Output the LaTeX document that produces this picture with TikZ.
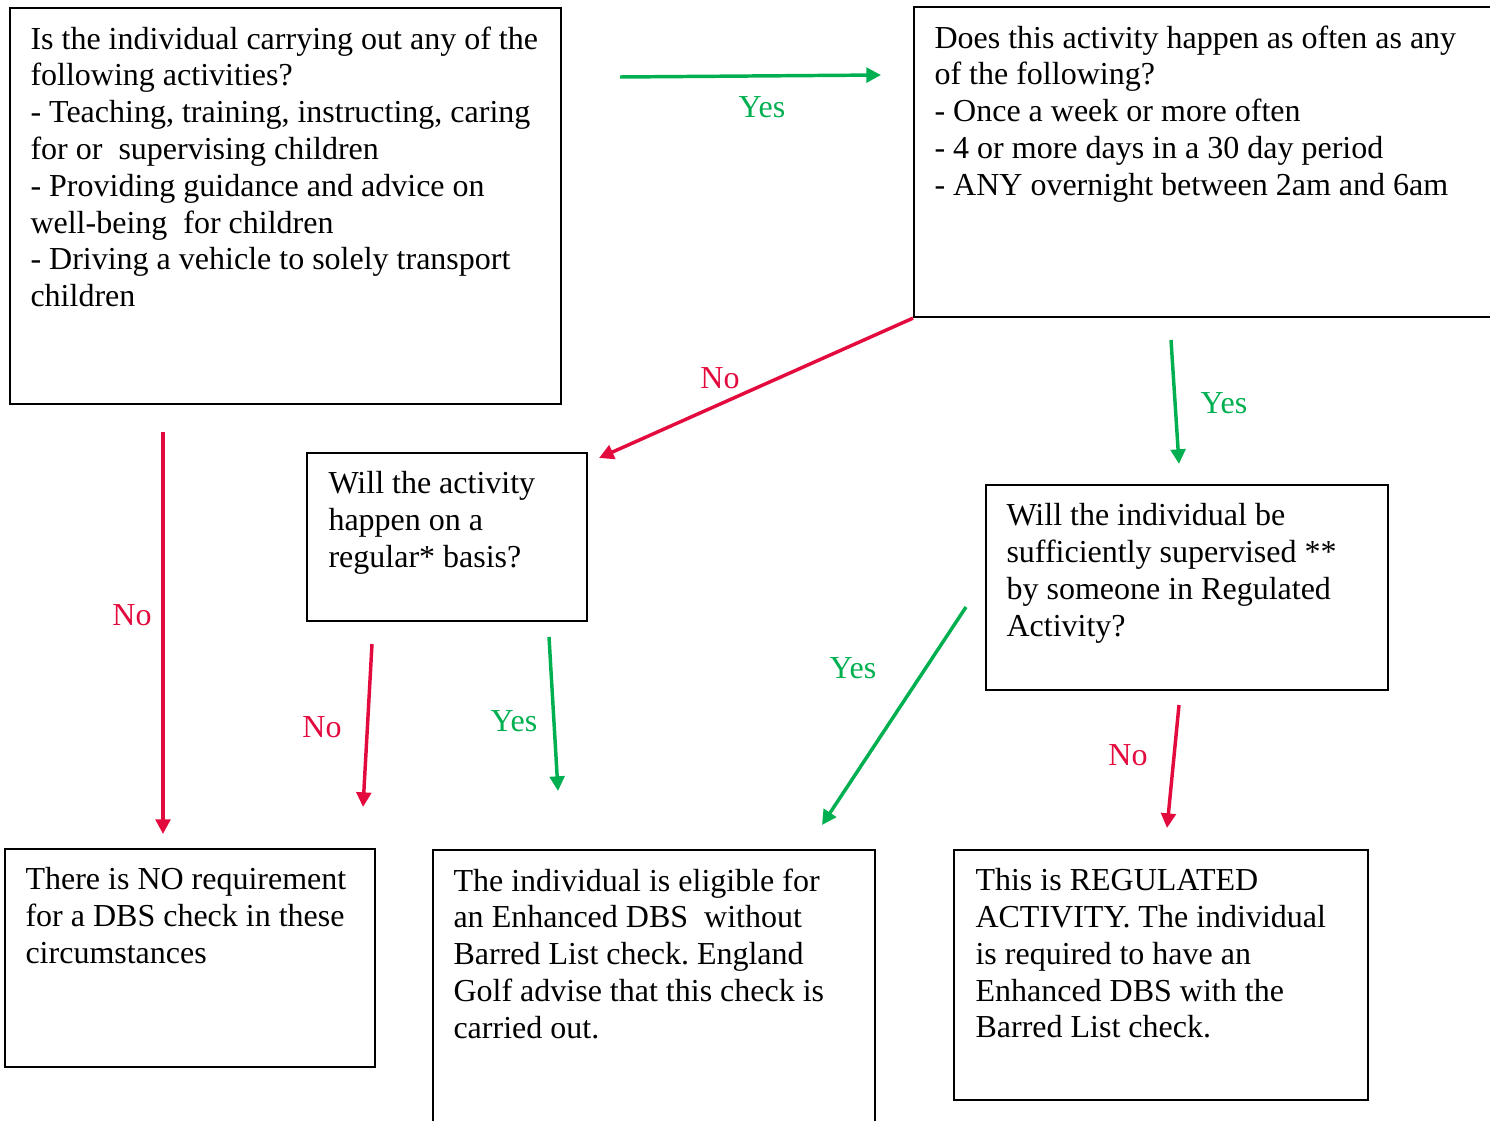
\documentclass[tikz,border=0pt]{standalone}
\usepackage{fontspec}
\setmainfont{Liberation Serif}
\usepackage{xcolor}
\usetikzlibrary{arrows.meta, positioning, calc}
\definecolor{yesgreen}{HTML}{00B050}
\definecolor{nored}{HTML}{E30B3E}
\frenchspacing

\begin{document}
\begin{tikzpicture}[
    x=0.375pt, y=-0.375pt,
    box/.style={rectangle, draw=black, line width=0.8pt, anchor=north west, inner sep=0pt},
    boxtext/.style={anchor=north west, inner sep=0pt, text width=#1, align=flush left, font=\fontsize{12}{13.8}\selectfont},
    yesarrow/.style={-{Triangle[length=5.5pt, width=5.5pt]}, line width=1.3pt, yesgreen},
    noarrow/.style={-{Triangle[length=5.5pt, width=5.5pt]}, line width=1.3pt, nored},
    yeslabel/.style={text=yesgreen, inner sep=0pt, font=\fontsize{12}{13.8}\selectfont},
    nolabel/.style={text=nored, inner sep=0pt, font=\fontsize{12}{13.8}\selectfont}
]
\useasboundingbox (0,0) rectangle (1490,1120);
\clip (0,0) rectangle (1490,1120);

% Boxes
\node[box, minimum width=206.6pt, minimum height=148.5pt] (act) at (9,7) {};
\node[box, minimum width=223.9pt, minimum height=116.25pt] (freq) at (913,6) {};
\node[box, minimum width=105pt, minimum height=63pt] (regular) at (306,452) {};
\node[box, minimum width=150.75pt, minimum height=76.9pt] (superv) at (985,484) {};
\node[box, minimum width=138.75pt, minimum height=81.75pt] (noreq) at (4,848) {};
\node[box, minimum width=165.75pt, minimum height=107.25pt] (eligible) at (432,849) {};
\node[box, minimum width=155.25pt, minimum height=93.75pt] (regulated) at (953,849) {};

% Box texts
\node[boxtext=205pt] (act-t) at ($(act.north west)+(21,19)$) {Is the individual carrying out any of the\\ following activities?\\ - Teaching, training, instructing, caring\\ for or \ supervising children\\ - Providing guidance and advice on\\ well-being \ for children\\ - Driving a vehicle to solely transport\\ children};
\node[boxtext=220pt] (freq-t) at ($(freq.north west)+(21,19)$) {Does this activity happen as often as any\\ of the following?\\ - Once a week or more often\\ - 4 or more days in a 30 day period\\ - ANY overnight between 2am and 6am};
\node[boxtext=102pt] (regular-t) at ($(regular.north west)+(22,19)$) {Will the activity\\ happen on a\\ regular* basis?};
\node[boxtext=148pt] (superv-t) at ($(superv.north west)+(21,19)$) {Will the individual be\\ sufficiently supervised **\\ by someone in Regulated\\ Activity?};
\node[boxtext=136pt] (noreq-t) at ($(noreq.north west)+(21,19)$) {There is NO requirement\\ for a DBS check in these\\ circumstances};
\node[boxtext=163pt] (eligible-t) at ($(eligible.north west)+(21,19)$) {The individual is eligible for\\ an Enhanced DBS \ without\\ Barred List check. England\\ Golf advise that this check is\\ carried out.};
\node[boxtext=152pt] (regulated-t) at ($(regulated.north west)+(22,19)$) {This is REGULATED\\ ACTIVITY. The individual\\ is required to have an\\ Enhanced DBS with the\\ Barred List check.};

% Arrow ends
\coordinate (a1s) at (620,77);   \coordinate (a1e) at (881,75);
\coordinate (a2e) at (599,458);
\coordinate (a3s) at (1171,340); \coordinate (a3e) at (1179,464);
\coordinate (a4s) at (163,432);  \coordinate (a4e) at (163,834);
\coordinate (a5s) at (372,644);  \coordinate (a5e) at (363,807);
\coordinate (a6s) at (549,637);  \coordinate (a6e) at (558,791);
\coordinate (a7s) at (966,607);  \coordinate (a7e) at (822,825);
\coordinate (a8s) at (1179,705); \coordinate (a8e) at (1167,828);

% Arrows
\draw[yesarrow] (a1s) -- (a1e);
\draw[noarrow] (freq.south west) -- (a2e);
\draw[yesarrow] (a3s) -- (a3e);
\draw[noarrow] (a4s) -- (a4e);
\draw[noarrow] (a5s) -- (a5e);
\draw[yesarrow] (a6s) -- (a6e);
\draw[yesarrow] (a7s) -- (a7e);
\draw[noarrow] (a8s) -- (a8e);

% Labels
\node[yeslabel] (yes1) at (762,107) {Yes};
\node[nolabel] (no1) at (720,378) {No};
\node[yeslabel] (yes2) at (1224,403) {Yes};
\node[nolabel] (no2) at (132,615) {No};
\node[nolabel] (no3) at (322,727) {No};
\node[yeslabel] (yes3) at (514,721) {Yes};
\node[yeslabel] (yes4) at (853,668) {Yes};
\node[nolabel] (no4) at (1128,755) {No};

\end{tikzpicture}
\end{document}
